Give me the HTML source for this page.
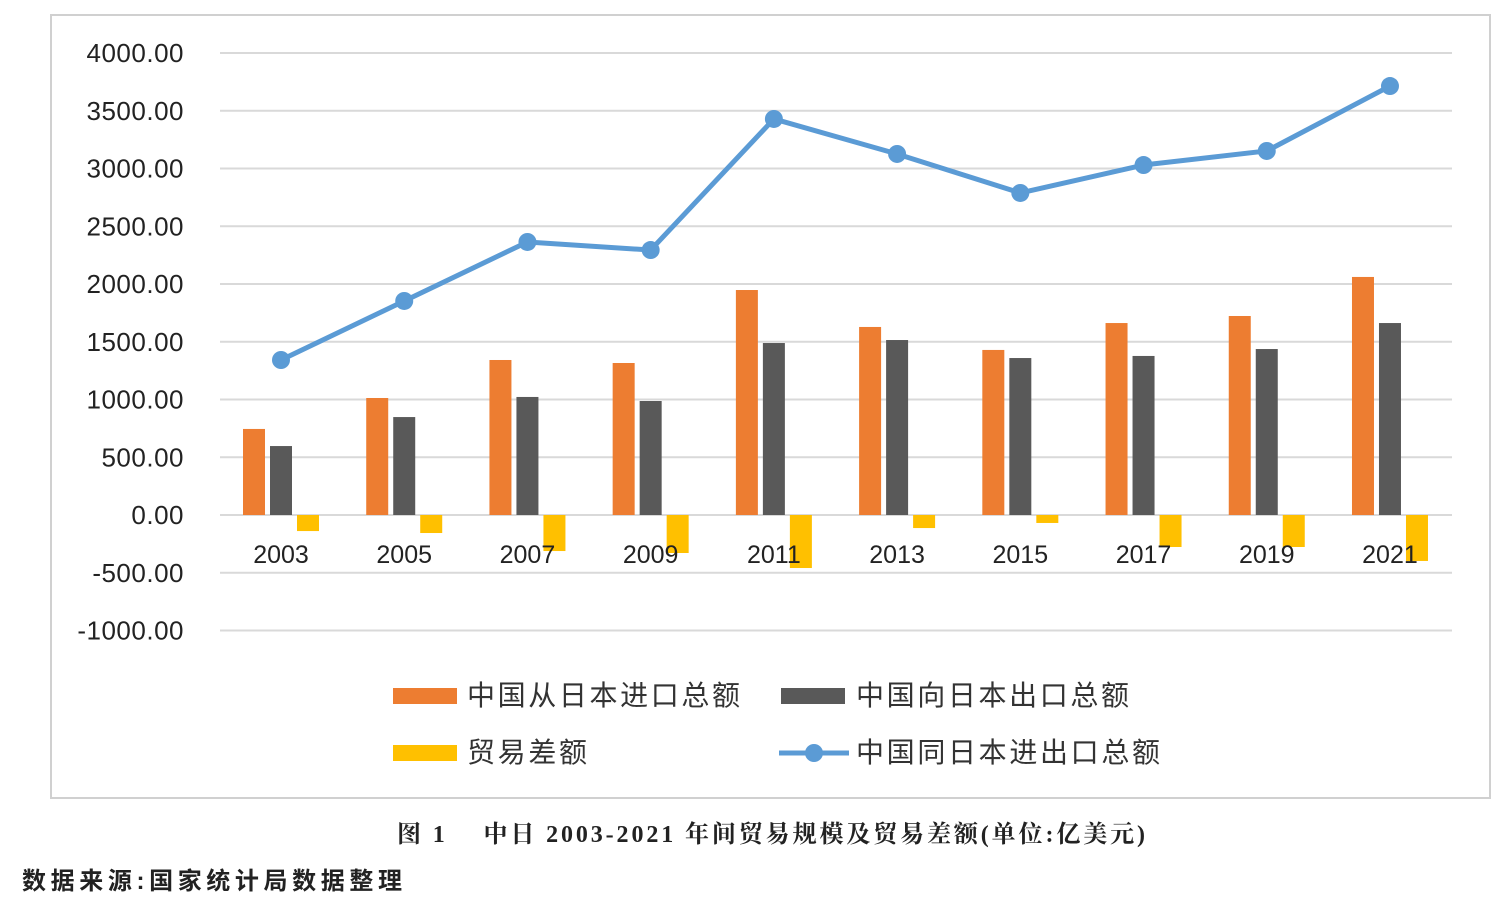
<!DOCTYPE html>
<html><head><meta charset="utf-8"><style>
body{margin:0;background:#fff;width:1500px;height:905px;overflow:hidden;font-family:"Liberation Sans","Noto Sans CJK SC",sans-serif}
</style></head><body>
<svg width="1500" height="905">
<rect x="51" y="15" width="1439" height="783" fill="#fff" stroke="#d0d0d0" stroke-width="2"/>
<g id="grid"></g><g id="bars"></g><g id="xlabels"></g><g id="line"></g>
<g font-family="Liberation Sans, Noto Sans CJK SC, sans-serif" font-size="28" fill="#333">
<rect x="393" y="688" width="64" height="16" fill="#ED7D31"/>
<text x="467" y="705" textLength="273" lengthAdjust="spacing">中国从日本进口总额</text>
<rect x="781" y="688" width="64" height="16" fill="#595959"/>
<text x="856" y="705" textLength="273" lengthAdjust="spacing">中国向日本出口总额</text>
<rect x="393" y="745" width="64" height="16" fill="#FFC000"/>
<text x="467" y="762" textLength="120" lengthAdjust="spacing">贸易差额</text>
<line x1="779" y1="753" x2="849" y2="753" stroke="#5B9BD5" stroke-width="5"/>
<circle cx="814" cy="753" r="9" fill="#5B9BD5"/>
<text x="856" y="762" textLength="304" lengthAdjust="spacing">中国同日本进出口总额</text>
</g>
<text x="397" y="842" textLength="748" lengthAdjust="spacing" font-size="24" font-weight="bold" fill="#222" font-family="Liberation Serif, Noto Serif CJK SC, serif">图 1　 中日 2003-2021 年间贸易规模及贸易差额(单位:亿美元)</text>
<text x="22" y="889" textLength="380" lengthAdjust="spacing" font-size="24" font-weight="bold" fill="#222" font-family="Liberation Sans, Noto Sans CJK SC, sans-serif">数据来源:国家统计局数据整理</text>
</svg>
<script>
const years=["2003","2005","2007","2009","2011","2013","2015","2017","2019","2021"];
const imports=[745,1013,1342,1316,1948,1628,1429,1662,1723,2061];
const exports=[597,848,1022,987,1489,1515,1359,1377,1437,1662];
const balance=[-139,-156,-312,-329,-459,-113,-69,-277,-277,-398];
const totals=[1342,1853,2364,2294,3429,3126,2788,3030,3152,3714];
const yTicks=[-1000,-500,0,500,1000,1500,2000,2500,3000,3500,4000];
const NS="http://www.w3.org/2000/svg";
const y=v=>515-v*0.1155;
const x=i=>281+i*123.22;
function mk(t,a,p){const e=document.createElementNS(NS,t);for(const k in a)e.setAttribute(k,a[k]);p.appendChild(e);return e;}
const G=document.getElementById('grid');
yTicks.forEach(v=>{
 const l=mk('line',{x1:220,x2:1452,y1:y(v),y2:y(v),stroke:'#d9d9d9','stroke-width':2},G);
 
 
 const t=mk('text',{x:184,y:y(v)+9,'text-anchor':'end','font-size':26,fill:'#222','letter-spacing':'0.5'},G);
 t.textContent=v.toFixed(2);
 
 
});
const B=document.getElementById('bars');
years.forEach((yr,i)=>{
 const c=x(i);
 const r1=mk('rect',{x:c-38,y:y(imports[i]),width:22,height:y(0)-y(imports[i]),fill:'#ED7D31'},B);
 
 
 const r2=mk('rect',{x:c-11,y:y(exports[i]),width:22,height:y(0)-y(exports[i]),fill:'#595959'},B);
 
 
 const r3=mk('rect',{x:c+16,y:y(0),width:22,height:y(balance[i])-y(0),fill:'#FFC000'},B);
 
 
 const t=mk('text',{x:c,y:563,'text-anchor':'middle','font-size':25,fill:'#222'},document.getElementById('xlabels'));
 t.textContent=yr;
 
 
});
const L=document.getElementById('line');
const p=mk('polyline',{points:totals.map((v,i)=>x(i)+','+y(v)).join(' '),fill:'none',stroke:'#5B9BD5','stroke-width':5,'stroke-linejoin':'round'},L);


totals.forEach((v,i)=>{
 const c=mk('circle',{cx:x(i),cy:y(v),r:9,fill:'#5B9BD5'},L);
 
 
});
</script>
</body></html>
